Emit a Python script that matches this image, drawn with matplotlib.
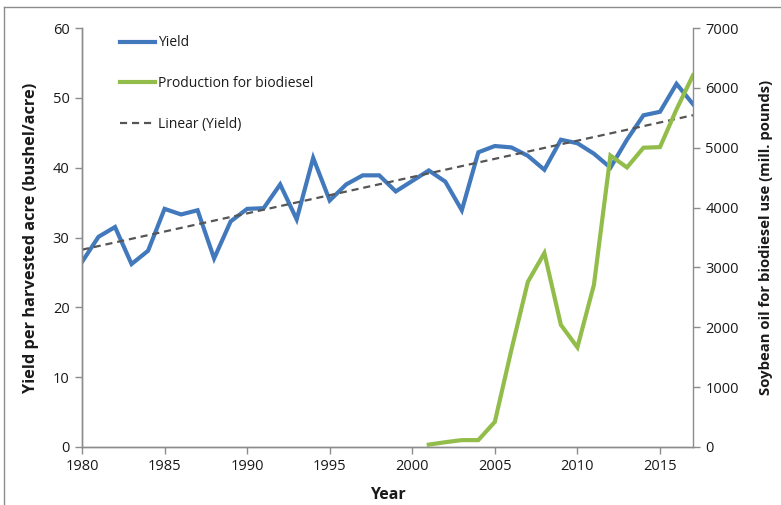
import numpy as np
import matplotlib
matplotlib.use('Agg')
import matplotlib.pyplot as plt
from matplotlib.lines import Line2D

plt.rcParams['font.family'] = ['Open Sans', 'DejaVu Sans']

# 数据
years = list(range(1980, 2018))
yield_vals = [26.5, 30.1, 31.5, 26.2, 28.1, 34.1, 33.3, 33.9, 27.0, 32.3,
              34.1, 34.2, 37.6, 32.6, 41.4, 35.3, 37.6, 38.9, 38.9, 36.6,
              38.1, 39.6, 38.0, 33.9, 42.2, 43.1, 42.9, 41.7, 39.7, 44.0,
              43.5, 42.0, 40.0, 44.0, 47.5, 48.0, 52.0, 49.1]
bio_years = list(range(2001, 2018))
biodiesel = [40, 80, 115, 115, 420, 1620, 2760, 3240, 2040, 1665,
             2710, 4870, 4670, 5000, 5010, 5640, 6210]

blue = '#4279bd'
green = '#93bd4a'
axis_grey = '#8c8c8c'
text_col = '#1a1a1a'

fig = plt.figure(figsize=(7.81, 5.05), dpi=100)
ax = fig.add_axes([82 / 781, 58 / 505, 611 / 781, 419 / 505])
ax2 = ax.twinx()

# 线性趋势
coef = np.polyfit(years, yield_vals, 1)
trend = np.polyval(coef, years)

l1, = ax.plot(years, yield_vals, color=blue, lw=3.0, solid_joinstyle='miter', zorder=2)
l3, = ax.plot(years, trend, color='#555555', lw=1.6, ls=(0, (3.2, 2.2)), zorder=3)
l2, = ax2.plot(bio_years, biodiesel, color=green, lw=3.0, solid_joinstyle='miter')

ax.set_xlim(1980, 2017)
ax.set_ylim(0, 60)
ax2.set_ylim(0, 7000)
ax.set_xticks(range(1980, 2020, 5))
ax.set_yticks(range(0, 70, 10))
ax2.set_yticks(range(0, 8000, 1000))

for a in (ax, ax2):
    for s in a.spines.values():
        s.set_color(axis_grey)
        s.set_linewidth(1.0)
    a.spines['top'].set_visible(False)
    a.tick_params(colors=axis_grey, labelcolor=text_col, labelsize=10.5, length=5, width=1, pad=4)
ax.spines['right'].set_visible(False)

ax.set_xlabel('Year', fontsize=11.5, fontweight='bold', color=text_col, labelpad=9)
ax.set_ylabel('Yield per harvested acre (bushel/acre)', fontsize=11.8, fontweight='bold',
              color=text_col, labelpad=10)
ax2.set_ylabel('Soybean oil for biodiesel use (mill. pounds)', fontsize=10.7, fontweight='bold',
               color=text_col, labelpad=14)

leg = ax2.legend([l1, l2, l3], ['Yield', 'Production for biodiesel', 'Linear (Yield)'],
                 loc='upper left', bbox_to_anchor=(0.042, 1.012), frameon=False,
                 fontsize=10, labelspacing=1.85, handlelength=2.5, handletextpad=0.2)
for t in leg.get_texts():
    t.set_color(text_col)

# 外框
fig.add_artist(Line2D([4 / 781, 1], [1 - 7 / 505, 1 - 7 / 505], color=axis_grey, lw=1))
fig.add_artist(Line2D([4 / 781, 4 / 781], [0, 1 - 7 / 505], color=axis_grey, lw=1))

plt.savefig('out.png', dpi=100)
plt.close()
